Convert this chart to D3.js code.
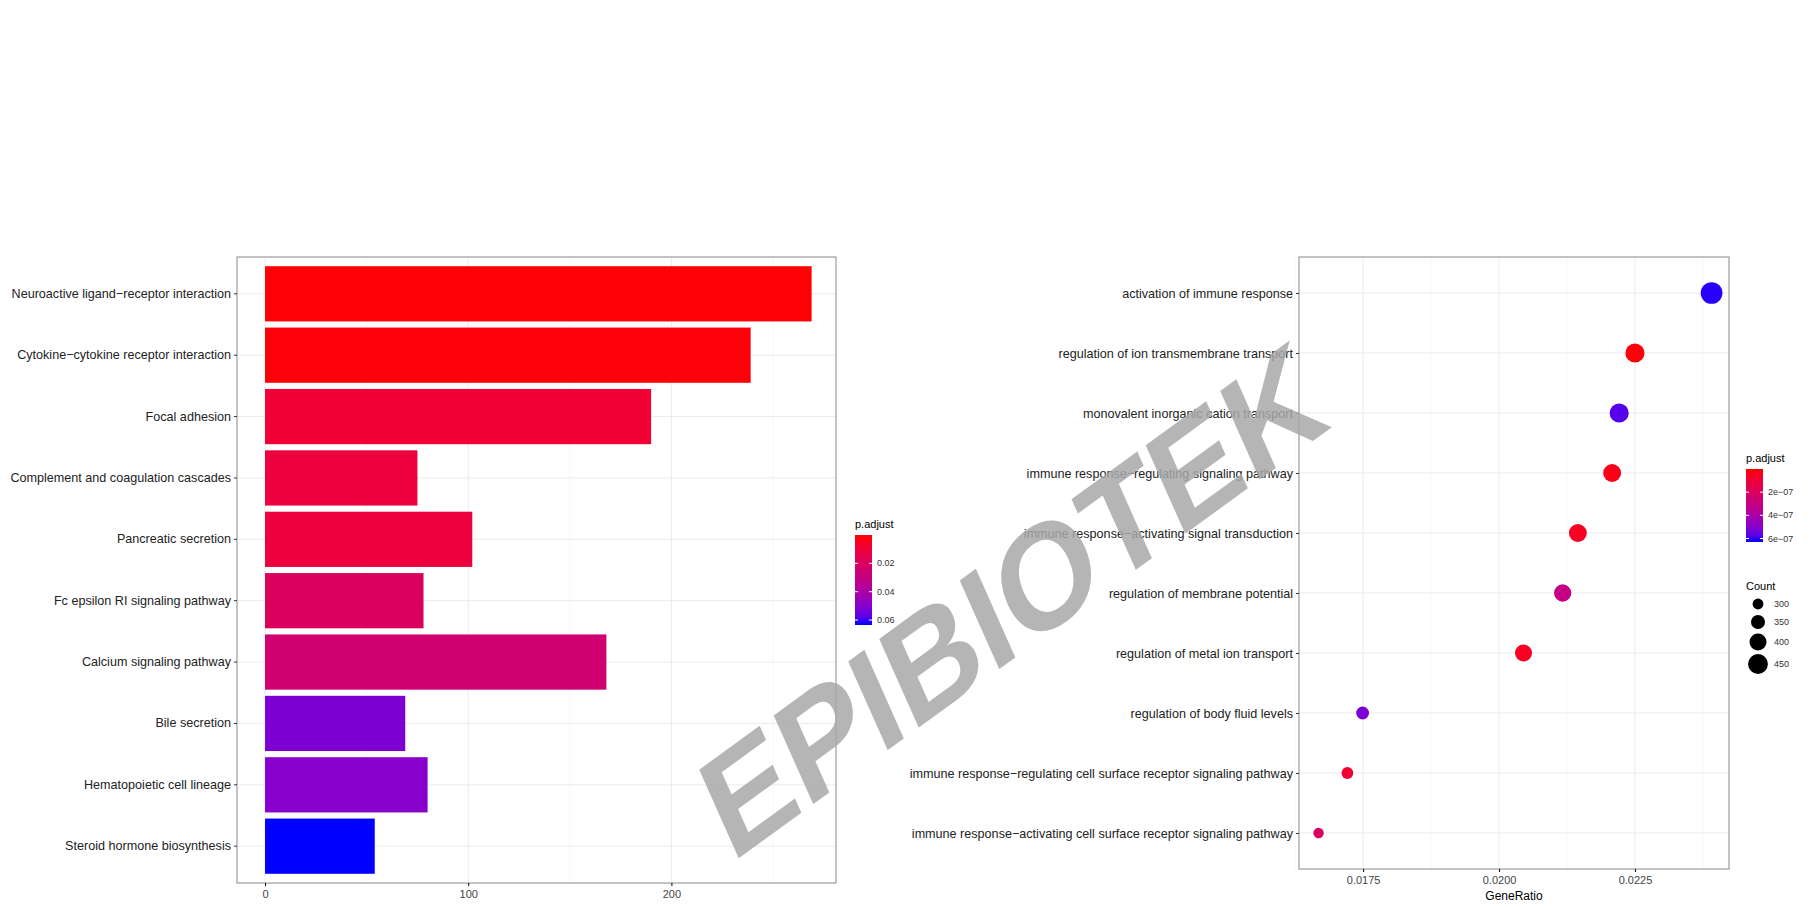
<!DOCTYPE html>
<html>
<head>
<meta charset="utf-8">
<script src="https://cdn.jsdelivr.net/npm/d3@7"></script>
<style>
  body { margin: 0; background: #fff; }
  text { font-family: "Liberation Sans", Arial, sans-serif; }
</style>
</head>
<body>
<svg id="chart" width="1814" height="907"></svg>
<script>
// KEGG bar chart data
const keggTerms = ['Neuroactive ligand\u2212receptor interaction', 'Cytokine\u2212cytokine receptor interaction',
    'Focal adhesion', 'Complement and coagulation cascades', 'Pancreatic secretion',
    'Fc epsilon RI signaling pathway', 'Calcium signaling pathway', 'Bile secretion',
    'Hematopoietic cell lineage', 'Steroid hormone biosynthesis'];
const keggCounts = [269, 239, 190, 75, 102, 78, 168, 69, 80, 54];
const keggPadj = [0.0005, 0.001, 0.009, 0.011, 0.011, 0.02, 0.025, 0.052, 0.050, 0.0635];
const keggTicks = [0, 100, 200];
const keggLegendTicks = [0.02, 0.04, 0.06];

// GO dot plot data
const goTerms = ['activation of immune response', 'regulation of ion transmembrane transport',
    'monovalent inorganic cation transport', 'immune response\u2212regulating signaling pathway',
    'immune response\u2212activating signal transduction', 'regulation of membrane potential',
    'regulation of metal ion transport', 'regulation of body fluid levels',
    'immune response\u2212regulating cell surface receptor signaling pathway',
    'immune response\u2212activating cell surface receptor signaling pathway'];
const goRatio = [0.02391, 0.02250, 0.02221, 0.02208, 0.02145, 0.02117, 0.02045, 0.01749, 0.01721, 0.01668];
const goCount = [465, 420, 420, 400, 400, 390, 385, 320, 305, 285];
const goPadj = [6.2e-7, 0.1e-7, 5.8e-7, 0.3e-7, 0.5e-7, 3.0e-7, 0.5e-7, 5.2e-7, 0.8e-7, 2.0e-7];
const goTicks = [0.0175, 0.0200, 0.0225];
const goLegendTicks = [2e-7, 4e-7, 6e-7];
const countLegend = [300, 350, 400, 450];

const svg = d3.select('#chart');
const gridColor = '#ebebeb';

function colorLegend(x, y, h, scale, ticks, fmt, gid) {
    const grad = svg.append('defs').append('linearGradient').attr('id', gid)
        .attr('x1', 0).attr('x2', 0).attr('y1', 0).attr('y2', 1);
    d3.range(0, 1.01, 0.1).forEach(t => {
        grad.append('stop').attr('offset', t)
            .attr('stop-color', scale(scale.domain()[0] + t * (scale.domain()[1] - scale.domain()[0])));
    });
    svg.append('text').attr('x', x).attr('y', y - 7).attr('font-size', 11).text('p.adjust');
    svg.append('rect').attr('x', x).attr('y', y).attr('width', 17).attr('height', h)
        .attr('fill', 'url(#' + gid + ')');
    const ly = d3.scaleLinear().domain(scale.domain()).range([y, y + h]);
    ticks.forEach(t => {
        svg.append('line').attr('x1', x).attr('x2', x + 3).attr('y1', ly(t)).attr('y2', ly(t)).attr('stroke', '#fff');
        svg.append('line').attr('x1', x + 14).attr('x2', x + 17).attr('y1', ly(t)).attr('y2', ly(t)).attr('stroke', '#fff');
        svg.append('text').attr('x', x + 22).attr('y', ly(t)).attr('dy', '0.35em')
            .attr('font-size', 9).attr('fill', '#333').text(fmt(t));
    });
}

// ---------- left: KEGG bars ----------
{
    const m = {left: 237, right: 836, top: 257, bottom: 883};
    const x = d3.scaleLinear().domain([-13.8, 281]).range([m.left, m.right]);
    const y = d3.scaleBand().domain(keggTerms).range([m.top, m.bottom]).paddingInner(0.1).paddingOuter(0.15);
    const col = d3.scaleLinear().domain([0, 0.0635]).range(['red', 'blue']).interpolate(d3.interpolateLab);
    const g = svg.append('g');
    [50, 150, 250].forEach(t => g.append('line').attr('x1', x(t)).attr('x2', x(t)).attr('y1', m.top).attr('y2', m.bottom)
        .attr('stroke', '#f4f4f4').attr('stroke-width', 0.7));
    keggTicks.forEach(t => g.append('line').attr('x1', x(t)).attr('x2', x(t)).attr('y1', m.top).attr('y2', m.bottom)
        .attr('stroke', gridColor));
    keggTerms.forEach(d => g.append('line').attr('x1', m.left).attr('x2', m.right)
        .attr('y1', y(d) + y.bandwidth() / 2).attr('y2', y(d) + y.bandwidth() / 2).attr('stroke', gridColor));
    g.selectAll('.bar').data(keggTerms).join('rect')
        .attr('x', x(0)).attr('y', d => y(d))
        .attr('width', (d, i) => x(keggCounts[i]) - x(0)).attr('height', y.bandwidth())
        .attr('fill', (d, i) => col(keggPadj[i]));
    g.append('rect').attr('x', m.left).attr('y', m.top).attr('width', m.right - m.left).attr('height', m.bottom - m.top)
        .attr('fill', 'none').attr('stroke', '#888');
    const ya = g.append('g').attr('transform', 'translate(' + m.left + ',0)')
        .call(d3.axisLeft(y).tickSize(3).tickPadding(3));
    ya.select('.domain').remove();
    ya.selectAll('text').attr('font-size', 12.6).attr('fill', '#222').attr('font-family', '"Liberation Sans", Arial');
    ya.selectAll('line').attr('stroke', '#333');
    const xa = g.append('g').attr('transform', 'translate(0,' + m.bottom + ')')
        .call(d3.axisBottom(x).tickValues(keggTicks).tickSize(3).tickPadding(4));
    xa.select('.domain').remove();
    xa.selectAll('text').attr('font-size', 11).attr('fill', '#444').attr('font-family', '"Liberation Sans", Arial');
    colorLegend(855, 535, 90, col, keggLegendTicks, d3.format('.2f'), 'gk');
}

// ---------- right: GO dots ----------
{
    const m = {left: 1299, right: 1729, top: 257, bottom: 869};
    const x = d3.scaleLinear().domain([0.01632, 0.02423]).range([m.left, m.right]);
    const y = d3.scalePoint().domain(goTerms).range([m.top, m.bottom]).padding(0.6);
    const col = d3.scaleLinear().domain([0, 6.3e-7]).range(['red', 'blue']).interpolate(d3.interpolateLab);
    const r = d3.scaleSqrt().domain([280, 470]).range([5, 11]);
    const g = svg.append('g');
    [0.01625, 0.01875, 0.02125, 0.02375].forEach(t => g.append('line').attr('x1', x(t)).attr('x2', x(t))
        .attr('y1', m.top).attr('y2', m.bottom).attr('stroke', '#f4f4f4').attr('stroke-width', 0.7));
    goTicks.forEach(t => g.append('line').attr('x1', x(t)).attr('x2', x(t)).attr('y1', m.top).attr('y2', m.bottom)
        .attr('stroke', gridColor));
    goTerms.forEach(d => g.append('line').attr('x1', m.left).attr('x2', m.right)
        .attr('y1', y(d)).attr('y2', y(d)).attr('stroke', gridColor));
    g.selectAll('.dot').data(goTerms).join('circle')
        .attr('cx', (d, i) => x(goRatio[i])).attr('cy', d => y(d))
        .attr('r', (d, i) => r(goCount[i]))
        .attr('fill', (d, i) => col(goPadj[i]));
    g.append('rect').attr('x', m.left).attr('y', m.top).attr('width', m.right - m.left).attr('height', m.bottom - m.top)
        .attr('fill', 'none').attr('stroke', '#888');
    const ya = g.append('g').attr('transform', 'translate(' + m.left + ',0)')
        .call(d3.axisLeft(y).tickSize(3).tickPadding(3));
    ya.select('.domain').remove();
    ya.selectAll('text').attr('font-size', 12.6).attr('fill', '#222').attr('font-family', '"Liberation Sans", Arial');
    ya.selectAll('line').attr('stroke', '#333');
    const xa = g.append('g').attr('transform', 'translate(0,' + m.bottom + ')')
        .call(d3.axisBottom(x).tickValues(goTicks).tickFormat(d3.format('.4f')).tickSize(3).tickPadding(4));
    xa.select('.domain').remove();
    xa.selectAll('text').attr('font-size', 11).attr('fill', '#444').attr('font-family', '"Liberation Sans", Arial');
    svg.append('text').attr('x', (m.left + m.right) / 2).attr('y', 900).attr('text-anchor', 'middle')
        .attr('font-size', 12).text('GeneRatio');
    colorLegend(1746, 469, 73, col, goLegendTicks, d => (d / 1e-7) + 'e\u221207', 'gg');
    svg.append('text').attr('x', 1746).attr('y', 590).attr('font-size', 11).text('Count');
    countLegend.forEach((c, i) => {
        const cy = [604, 622, 642, 664][i];
        svg.append('circle').attr('cx', 1758).attr('cy', cy).attr('r', r(c) * 0.95).attr('fill', '#000');
        svg.append('text').attr('x', 1774).attr('y', cy).attr('dy', '0.35em').attr('font-size', 9)
            .attr('fill', '#333').text(c);
    });
}

// watermark
svg.append('text').attr('transform', 'translate(1012,600) rotate(-36) skewX(-12)')
    .attr('text-anchor', 'middle').attr('dy', '0.35em')
    .attr('font-size', 138).attr('font-weight', 'bold')
    .attr('fill', '#a8a8a8').attr('fill-opacity', 0.85).text('EPIBIOTEK');
</script>
</body>
</html>
